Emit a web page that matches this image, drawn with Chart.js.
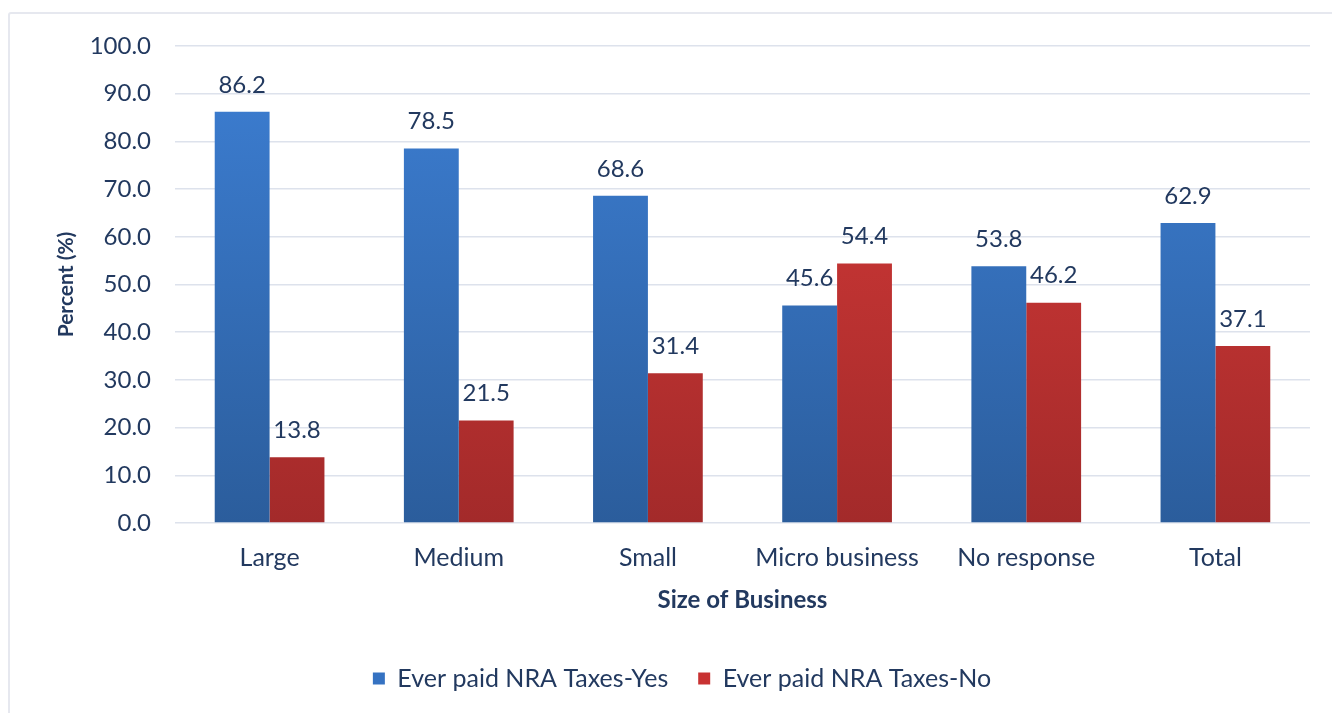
<!DOCTYPE html>
<html>
<head>
<meta charset="utf-8">
<script src="https://cdn.jsdelivr.net/npm/chart.js@4"></script>
<style>
  html, body { margin: 0; padding: 0; background: #fff; }
  #frame {
    position: absolute; left: 8px; top: 12px;
    width: 1400px; height: 800px;
    border: 2px solid #e6e8ef; border-radius: 3px;
  }
  #wrap { position: absolute; left: 0; top: 0; width: 1332px; height: 713px; }
</style>
</head>
<body>
<div id="frame"></div>
<div id="wrap"><canvas id="bar-chart" width="1332" height="713"></canvas></div>
<script>
var categories = ["Large", "Medium", "Small", "Micro business", "No response", "Total"];
var paidYes = [86.2, 78.5, 68.6, 45.6, 53.8, 62.9];
var paidNo = [13.8, 21.5, 31.4, 54.4, 46.2, 37.1];
var seriesNames = ["Ever paid NRA Taxes-Yes", "Ever paid NRA Taxes-No"];

var textColor = "#22395f";
var fontFamily = "Lato, 'Open Sans', sans-serif";

// vertical gradient for each bar series
function barFill(top, bottom) {
  return function(context) {
    var area = context.chart.chartArea;
    if (!area) return top;
    var g = context.chart.ctx.createLinearGradient(0, area.top, 0, area.bottom);
    g.addColorStop(0, top);
    g.addColorStop(1, bottom);
    return g;
  };
}

// values written above every bar
var valueLabels = {
  id: "valueLabels",
  afterDatasetsDraw: function(chart) {
    var ctx = chart.ctx;
    ctx.save();
    ctx.font = "24px " + fontFamily;
    ctx.fillStyle = textColor;
    ctx.textAlign = "center";
    ctx.textBaseline = "bottom";
    chart.data.datasets.forEach(function(ds, i) {
      chart.getDatasetMeta(i).data.forEach(function(bar, j) {
        ctx.fillText(ds.data[j].toFixed(1), bar.x, bar.y - 15);
      });
    });
    ctx.restore();
  }
};

new Chart(document.getElementById("bar-chart"), {
  type: "bar",
  data: {
    labels: categories,
    datasets: [
      {
        label: seriesNames[0],
        data: paidYes,
        backgroundColor: barFill("#3d7fd4", "#2b5d9c"),
        legendColor: "#3572c2"
      },
      {
        label: seriesNames[1],
        data: paidNo,
        backgroundColor: barFill("#d93b39", "#a32a2a"),
        legendColor: "#c83232"
      }
    ]
  },
  options: {
    responsive: false,
    animation: false,
    devicePixelRatio: 1,
    layout: { padding: { top: 46, right: 22, left: 54, bottom: 12 } },
    datasets: { bar: { categoryPercentage: 0.58, barPercentage: 1.0 } },
    plugins: {
      legend: {
        position: "bottom",
        labels: {
          font: { size: 25, family: fontFamily },
          color: textColor,
          boxWidth: 12,
          boxHeight: 12,
          padding: 30,
          generateLabels: function(chart) {
            return chart.data.datasets.map(function(ds, i) {
              return {
                text: ds.label,
                fillStyle: ds.legendColor,
                strokeStyle: ds.legendColor,
                lineWidth: 0,
                fontColor: textColor,
                datasetIndex: i
              };
            });
          }
        }
      },
      tooltip: { enabled: false }
    },
    scales: {
      x: {
        grid: { display: false },
        border: { display: false },
        ticks: { font: { size: 25, family: fontFamily }, color: textColor, padding: 12 },
        title: {
          display: true,
          text: "Size of Business",
          font: { size: 24, weight: "bold", family: fontFamily },
          color: textColor,
          padding: { top: 8, bottom: 21 }
        },
        afterFit: function(scale) { scale.height = 113; }
      },
      y: {
        min: 0,
        max: 100,
        ticks: {
          stepSize: 10,
          font: { size: 24, family: fontFamily },
          color: textColor,
          padding: 24,
          callback: function(v) { return v.toFixed(1); }
        },
        grid: { color: "#dde2ec", lineWidth: 1.5, drawTicks: false },
        border: { display: false },
        title: {
          display: true,
          text: "Percent (%)",
          font: { size: 21, weight: "bold", family: fontFamily },
          color: textColor,
          padding: { top: 0, bottom: 0 }
        },
        afterFit: function(scale) { scale.width = 121; }
      }
    }
  },
  plugins: [valueLabels]
});
</script>
</body>
</html>
